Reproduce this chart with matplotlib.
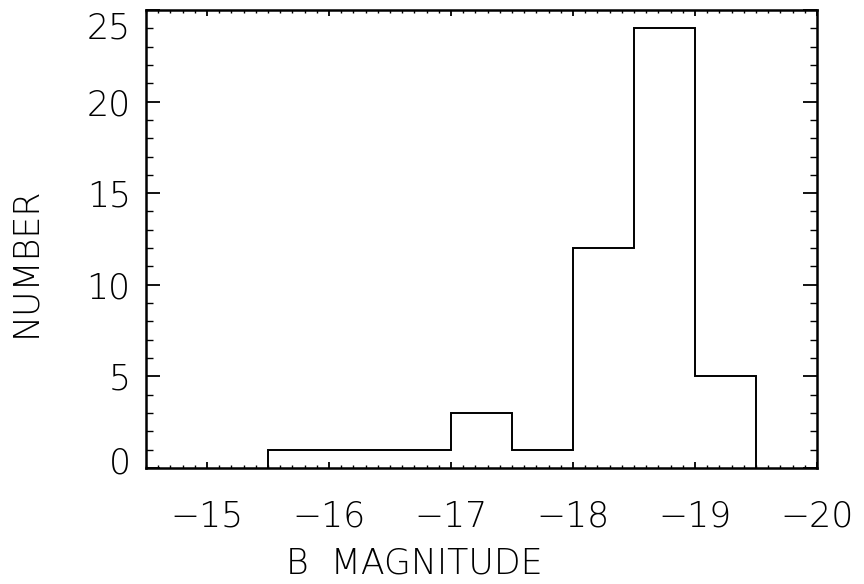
import numpy as np
import matplotlib.pyplot as plt
import matplotlib.transforms as mtransforms
from matplotlib.ticker import MultipleLocator

# ===== data =====
bin_edges = [-15.5, -16.0, -16.5, -17.0, -17.5, -18.0, -18.5, -19.0, -19.5]
counts = [1, 1, 1, 3, 1, 12, 24, 5]

x_ticks = [-15, -16, -17, -18, -19, -20]
y_ticks = [0, 5, 10, 15, 20, 25]

# ===== figure =====
fig = plt.figure(figsize=(8.64, 5.84), dpi=100)
ax = fig.add_axes([0.169, 0.1986, 0.7766, 0.7844])

ax.stairs(counts, bin_edges, color='black', lw=1.4)

ax.set_xlim(-14.5, -20)
ax.set_ylim(0, 25)

ax.set_xticks(x_ticks)
ax.set_xticklabels(['\u2212%d' % abs(v) for v in x_ticks])
ax.set_yticks(y_ticks)
ax.xaxis.set_minor_locator(MultipleLocator(0.1))
ax.yaxis.set_minor_locator(MultipleLocator(1))

ax.tick_params(axis='x', which='major', direction='in', length=4, width=1.3,
               top=True, bottom=True, pad=23)
ax.tick_params(axis='x', which='minor', direction='in', length=2.2, width=1.0,
               top=True, bottom=True)
ax.tick_params(axis='y', which='major', direction='in', length=10, width=1.3,
               left=True, right=True, pad=11)
ax.tick_params(axis='y', which='minor', direction='in', length=5, width=1.0,
               left=True, right=True)

fsize = 25
for lab in ax.get_xticklabels() + ax.get_yticklabels():
    lab.set_fontsize(fsize)
    lab.set_fontweight('light')

# end labels on the y axis sit a bit inside the frame
ylabs = ax.get_yticklabels()
ylabs[0].set_transform(ylabs[0].get_transform() +
                       mtransforms.ScaledTranslation(0, 6 / 72, fig.dpi_scale_trans))
ylabs[-1].set_transform(ylabs[-1].get_transform() +
                        mtransforms.ScaledTranslation(0, -11 / 72, fig.dpi_scale_trans))

for s in ax.spines.values():
    s.set_linewidth(1.8)

ax.set_xlabel('B  MAGNITUDE', fontsize=fsize, fontweight='light')
ax.set_ylabel('NUMBER', fontsize=fsize, fontweight='light')
ax.xaxis.set_label_coords(0.40, -0.172)
ax.yaxis.set_label_coords(-0.155, 0.45)

fig.savefig('out.png', dpi=100)
